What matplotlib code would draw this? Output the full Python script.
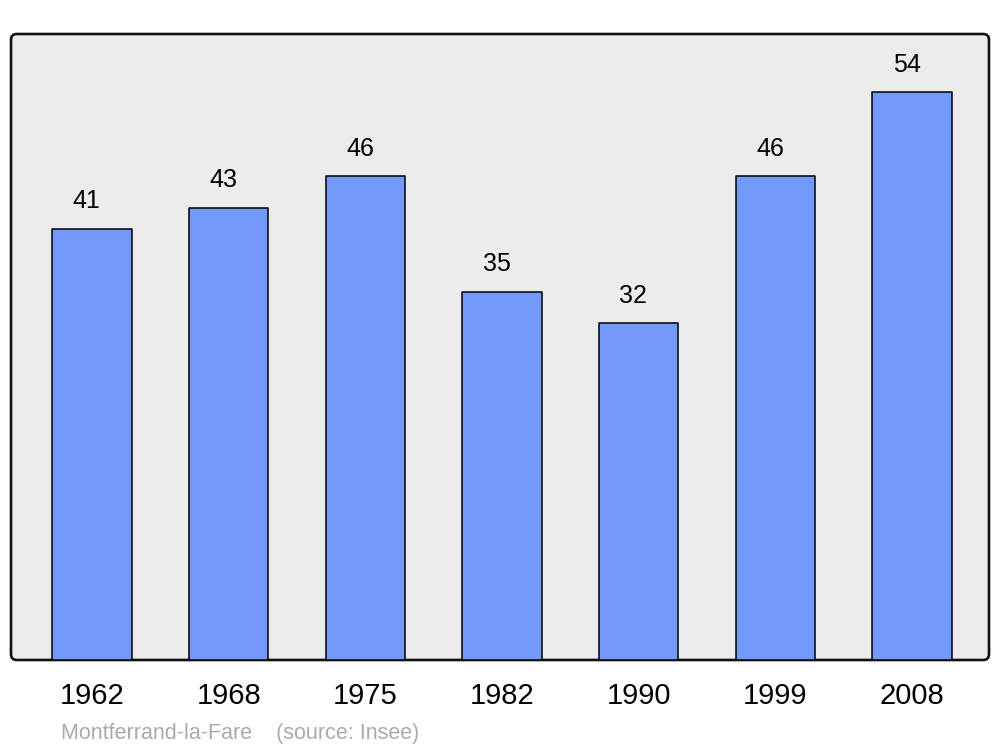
import matplotlib
matplotlib.use("Agg")
import matplotlib.pyplot as plt
from matplotlib.patches import FancyBboxPatch

years = ["1962", "1968", "1975", "1982", "1990", "1999", "2008"]
values = [41, 43, 46, 35, 32, 46, 54]
caption = "Montferrand-la-Fare    (source: Insee)"

plt.rcParams['font.family'] = ['Liberation Sans', 'DejaVu Sans']

fig = plt.figure(figsize=(10, 7.47), dpi=100)
ax = fig.add_axes([0.011, (747 - 660) / 747, 0.978, 626 / 747])
ax.set_facecolor('none')

x = list(range(len(years)))
bars = ax.bar(x, values, width=0.58, color='#7399ff', edgecolor='black',
              linewidth=1.1, zorder=3)
for b in bars:
    b.set_joinstyle('round')

ax.set_xlim(-0.593, 6.563)
ax.set_ylim(0, 59.5)

for xi, v in zip(x, values):
    ax.annotate(str(v), (xi, v), xytext=(-4, 11), textcoords='offset points',
                ha='center', va='bottom', fontsize=18, color='black')

ax.set_xticks(x)
ax.set_xticklabels(years, fontsize=21)
ax.tick_params(axis='x', length=0, pad=16)
ax.set_yticks([])
for s in ax.spines.values():
    s.set_visible(False)

frame = FancyBboxPatch((0, 0), 1, 1, boxstyle="round,pad=0,rounding_size=0.006",
                       transform=ax.transAxes, facecolor='#ececec',
                       edgecolor='#111111', linewidth=1.9, zorder=0,
                       clip_on=False, mutation_aspect=978 / 626)
ax.add_patch(frame)

fig.text(0.061, (747 - 733) / 747, caption, fontsize=15.5, color='#aaaaaa',
         ha='left', va='center')

fig.savefig('out.png', dpi=100)
